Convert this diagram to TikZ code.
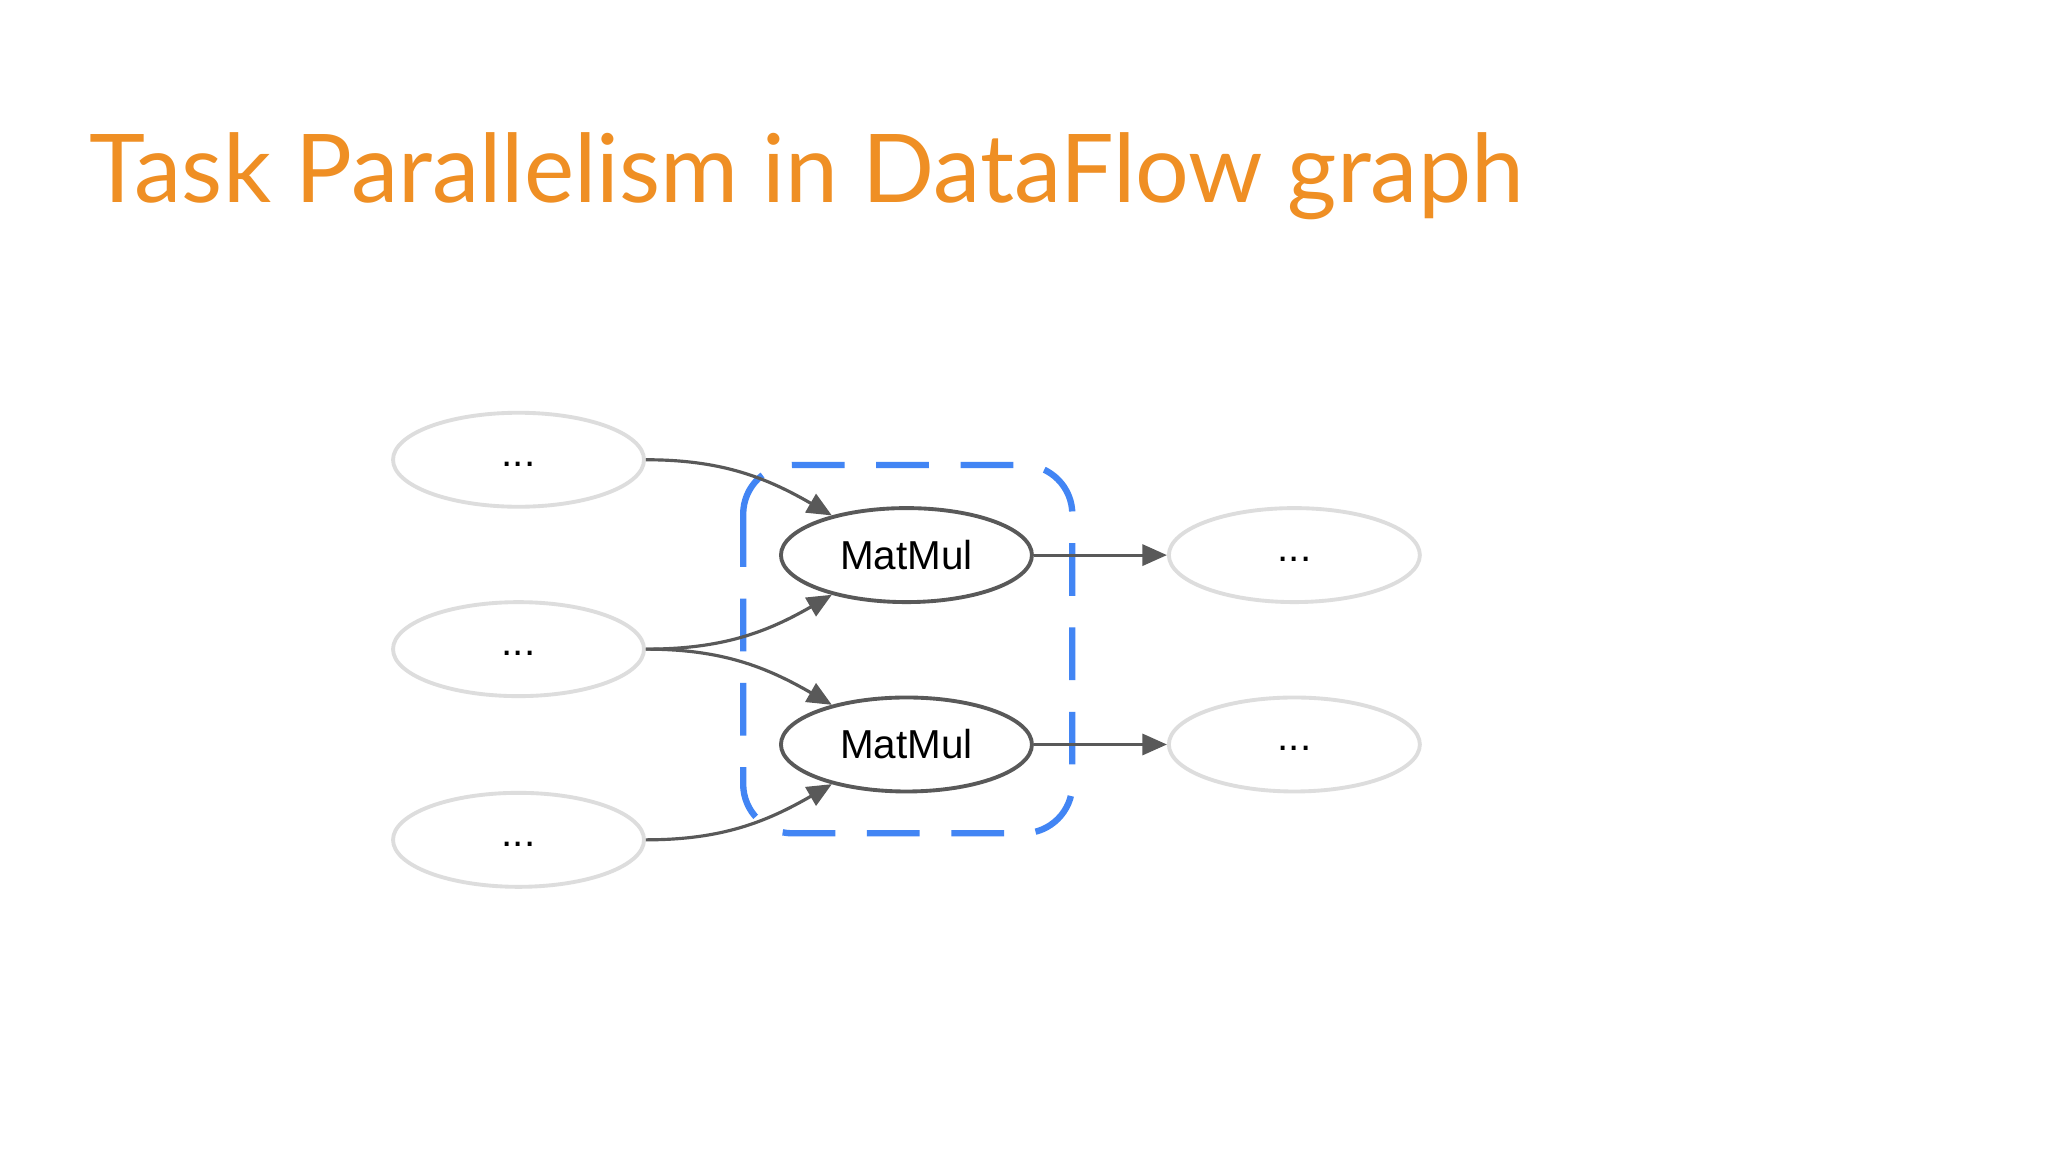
\documentclass[tikz,border=0pt]{standalone}
\usepackage{fontspec}
\setmainfont{Liberation Sans}
\newfontfamily\titlefont{Lato}
\usetikzlibrary{shapes.geometric,arrows.meta}
\definecolor{ttl}{HTML}{EF8F24}
\definecolor{gblue}{HTML}{4285F4}
\definecolor{edge}{HTML}{595959}
\definecolor{faint}{HTML}{DDDDDD}
\begin{document}
\begin{tikzpicture}[x=0.01306cm,y=-0.01306cm,
  op/.style={ellipse,draw=edge,line width=1.1pt,minimum width=2.51cm,minimum height=0.94cm,inner sep=0pt,font=\fontsize{11.5}{13}\selectfont},
  dim/.style={op,draw=faint},
  conn/.style={draw=edge,line width=0.9pt,-{Triangle[length=7pt,width=6pt]}}]
\useasboundingbox[fill=white] (0,0) rectangle (1568,882);
\node[anchor=base west,text=ttl,font=\titlefont\fontsize{27}{32}\selectfont,inner sep=0pt] (title) at (68,155) {Task Parallelism in DataFlow graph};
\draw[gblue,line width=1.8pt,dash pattern=on 15pt off 9pt,rounded corners=14pt] (569,356) rectangle (821,638);
\node[dim] (a) at (397,352) {\raisebox{-0.6ex}{...}};
\node[dim] (b) at (397,497) {\raisebox{-0.6ex}{...}};
\node[dim] (c) at (397,643) {\raisebox{-0.6ex}{...}};
\node[op] (m1) at (694,425) {MatMul};
\node[op] (m2) at (694,570) {MatMul};
\node[dim] (r1) at (991,425) {\raisebox{-0.6ex}{...}};
\node[dim] (r2) at (991,570) {\raisebox{-0.6ex}{...}};
\draw[conn] (a.east) to[out=0,in=150] (m1.152);
\draw[conn] (b.east) to[out=0,in=210] (m1.208);
\draw[conn] (b.east) to[out=0,in=150] (m2.152);
\draw[conn] (c.east) to[out=0,in=210] (m2.208);
\draw[conn] (m1.east) -- (r1.west);
\draw[conn] (m2.east) -- (r2.west);
\end{tikzpicture}
\end{document}
